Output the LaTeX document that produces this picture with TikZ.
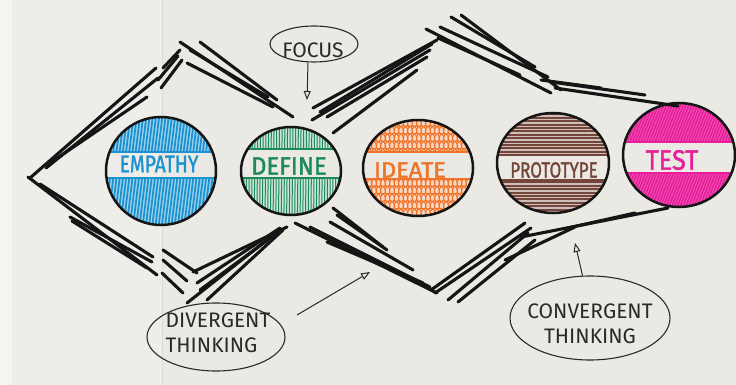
\documentclass[tikz,border=0pt]{standalone}
\usepackage{fontspec}
\setmainfont{Fira Sans}
\newfontfamily\markerfont{Fira Sans}[FakeBold=1.6]
\usetikzlibrary{shapes.geometric,arrows.meta,decorations.pathmorphing,calc}

\definecolor{paper}{HTML}{EAE9E4}
\definecolor{paperL}{HTML}{EEEDE9}
\definecolor{paperW}{HTML}{F4F4F2}
\definecolor{ink}{HTML}{151515}
\definecolor{pen}{HTML}{2A2A2A}
\definecolor{empblue}{HTML}{1C92D0}
\definecolor{defgreen}{HTML}{1D8A58}
\definecolor{ideorange}{HTML}{EF7429}
\definecolor{probrown}{HTML}{74463A}
\definecolor{tstpink}{HTML}{E81E9B}

\tikzset{
  marker/.style={ink, line width=3.1pt, line cap=round},
  rim/.style={draw=ink, line width=2.5pt, ellipse, inner sep=0pt},
  callout/.style={draw=pen, line width=1.1pt, ellipse, inner sep=0pt},
  callouttext/.style={text=pen, inner sep=0pt, font=\fontsize{21}{25}\selectfont},
  stagetext/.style={inner sep=0pt},
  pointer/.style={pen, line width=1pt, -{Triangle[open,length=9pt,width=7pt]}},
}

% hatched caps of a stage bubble, leaving a plain band for the word
% #1 cx, #2 cy, #3 rx, #4 ry, #5 band top, #6 band bottom, #7 colour, #8 tint, #9 strokes
\newcommand\bubblefill[9]{%
  \begin{scope}
    \clip (#1,#2) ellipse [x radius=#3pt, y radius=#4pt];
    \begin{scope}
      \clip (#1-#3-3,#2-#4-3) rectangle (#1+#3+3,#5);
      \fill[#7!#8!white] (#1-#3-3,#2-#4-3) rectangle (#1+#3+3,#5);
      #9
    \end{scope}
    \begin{scope}
      \clip (#1-#3-3,#6) rectangle (#1+#3+3,#2+#4+3);
      \fill[#7!#8!white] (#1-#3-3,#6) rectangle (#1+#3+3,#2+#4+3);
      #9
    \end{scope}
    \draw[#7, line width=1.5pt] (#1-#3,#5) -- (#1+#3,#5) (#1-#3,#6) -- (#1+#3,#6);
  \end{scope}}

\begin{document}
\begin{tikzpicture}[x=1pt,y=-1pt]
\useasboundingbox (0,0) rectangle (736,385);
% paper with its fold
\fill[paper] (0,0) rectangle (736,385);
\fill[paperL] (0,0) rectangle (162,385);
\fill[paperW] (0,0) rectangle (12,385);
\draw[paper!93!black, line width=0.5pt] (162,0) -- (162,385);

% ---- stage bubbles: hatching ----
\bubblefill{161}{171}{55}{54}{152}{178}{empblue}{40}{%
  \foreach \k in {0,...,44}{\draw[empblue,line width=1.8pt,line cap=round] (88+\k*3.2,228) -- ++(14,-115);}}
\bubblefill{291}{171}{50}{44}{149}{178}{defgreen}{22}{%
  \foreach \k in {0,...,42}{\draw[defgreen,line width=1pt] (238+\k*2.7,218) -- ++(1,-95);}}
\bubblefill{418}{168}{55}{48}{152}{179}{ideorange}{30}{%
  \foreach \r in {0,...,13}{\draw[ideorange,line width=1pt,decorate,decoration={coil,aspect=0.8,segment length=4.5pt,amplitude=4.5pt}] (358,115+\r*7.5) -- (480,115+\r*7.5);}}
\bubblefill{553}{163}{56}{50}{155}{180}{probrown}{35}{%
  \foreach \r in {0,...,31}{\draw[probrown,line width=2.1pt] (495,111+\r*3.4) -- (615,111+\r*3.4);}}
\bubblefill{679}{155}{56}{52}{142}{173}{tstpink}{70}{%
  \foreach \k in {0,...,55}{\draw[tstpink,line width=1.7pt] (580+\k*2.8,212) -- ++(45,-115);}}

% ---- stage bubbles: outlines and words ----
\node[rim, minimum width=110pt, minimum height=108pt] (empathy) at (161,171) {};
\node[rim, minimum width=100pt, minimum height=88pt]  (define)  at (291,171) {};
\node[rim, minimum width=110pt, minimum height=96pt]  (ideate)  at (418,168) {};
\node[rim, minimum width=112pt, minimum height=100pt] (prototype) at (553,163) {};
\node[rim, minimum width=112pt, minimum height=104pt] (test)    at (679,155) {};

\node[stagetext, text=empblue, font=\markerfont\fontsize{24}{24}\selectfont] (empathyT) at (159,164) {\scalebox{0.8}[1]{EMPATHY}};
\node[stagetext, text=defgreen, font=\markerfont\fontsize{25}{25}\selectfont] (defineT) at (289,166) {\scalebox{0.95}[1]{DEFINE}};
\node[stagetext, text=ideorange, font=\markerfont\fontsize{22}{22}\selectfont] (ideateT) at (410,170) {\scalebox{1.07}[1]{IDEATE}};
\node[stagetext, text=probrown, font=\markerfont\fontsize{22}{22}\selectfont] (prototypeT) at (554,170) {\scalebox{0.77}[1]{PROTOTYPE}};
\node[stagetext, text=tstpink, font=\markerfont\fontsize{28}{28}\selectfont] (testT) at (672,160) {\scalebox{0.9}[1]{TEST}};

% ---- upper outline of the double diamond ----
\draw[marker] (30,178) -- (156,68);
\draw[marker] (46,168) -- (158,78);
\draw[marker] (50,163) -- (147,97);
\draw[marker] (158,80) -- (178,56);
\draw[marker] (161,88) -- (182,60);
\draw[marker] (163,68) -- (180,50);
\draw[marker] (180,42) -- (293,117);
\draw[marker] (200,42) -- (277,100);
\draw[marker] (190,50) -- (268,97);
\draw[marker] (187,63) -- (273,107);
\draw[marker] (313,108) -- (437,40);
\draw[marker] (312,120) -- (430,50);
\draw[marker] (327,117) -- (427,57);
\draw[marker] (333,133) -- (417,70);
\draw[marker] (320,112) -- (432,44);
\draw[marker] (426,29) -- (551,93);
\draw[marker] (440,27) -- (548,77);
\draw[marker] (451,17) -- (535,67);
\draw[marker] (461,15) -- (561,90);
\draw[marker] (438,38) -- (520,75);
\draw[marker] (541,80) -- (601,88);
\draw[marker] (551,82) -- (645,95);
\draw[marker] (555,88) -- (678,106);

% ---- lower outline of the double diamond ----
\draw[marker] (28,177) -- (157,275);
\draw[marker] (40,184) -- (153,257);
\draw[marker] (70,217) -- (152,262);
\draw[marker] (72,221) -- (147,268);
\draw[marker] (163,250) -- (197,273);
\draw[marker] (163,260) -- (187,281);
\draw[marker] (162,273) -- (183,293);
\draw[marker] (193,272) -- (287,227);
\draw[marker] (197,283) -- (280,228);
\draw[marker] (200,290) -- (277,233);
\draw[marker] (187,303) -- (267,240);
\draw[marker] (207,300) -- (283,230);
\draw[marker] (295,223) -- (437,293);
\draw[marker] (310,227) -- (430,287);
\draw[marker] (333,208) -- (383,247);
\draw[marker] (330,222) -- (413,270);
\draw[marker] (327,242) -- (423,283);
\draw[marker] (337,215) -- (387,250);
\draw[marker] (431,290) -- (525,223);
\draw[marker] (435,293) -- (531,228);
\draw[marker] (448,300) -- (528,233);
\draw[marker] (458,302) -- (535,240);
\draw[marker] (505,260) -- (575,227);
\draw[marker] (521,237) -- (668,208);
\draw[marker] (568,228) -- (635,213);

% ---- callouts ----
\node[callout, minimum width=88pt, minimum height=36pt] (focusE) at (314,44) {};
\node[callouttext] (focusT) at (313,50) {FOCUS};
\coordinate (focusTip) at (307,100);
\draw[pointer] ([xshift=-6pt]focusE.south) -- (focusTip);

\node[callout, minimum width=138pt, minimum height=68pt] (divE) at (216,337) {};
\node[callouttext, align=left] (divT) at (218,333) {DIVERGENT\\THINKING};
\coordinate (divFrom) at (297,315);
\coordinate (divTip) at (370,272);
\draw[pointer] (divFrom) -- (divTip);

\node[callout, minimum width=160pt, minimum height=84pt] (convE) at (590,318) {};
\node[callouttext, align=center] (convT) at (590,324) {CONVERGENT\\THINKING};
\coordinate (convTip) at (575,243);
\draw[pointer] (convE.100) -- (convTip);
\end{tikzpicture}
\end{document}
